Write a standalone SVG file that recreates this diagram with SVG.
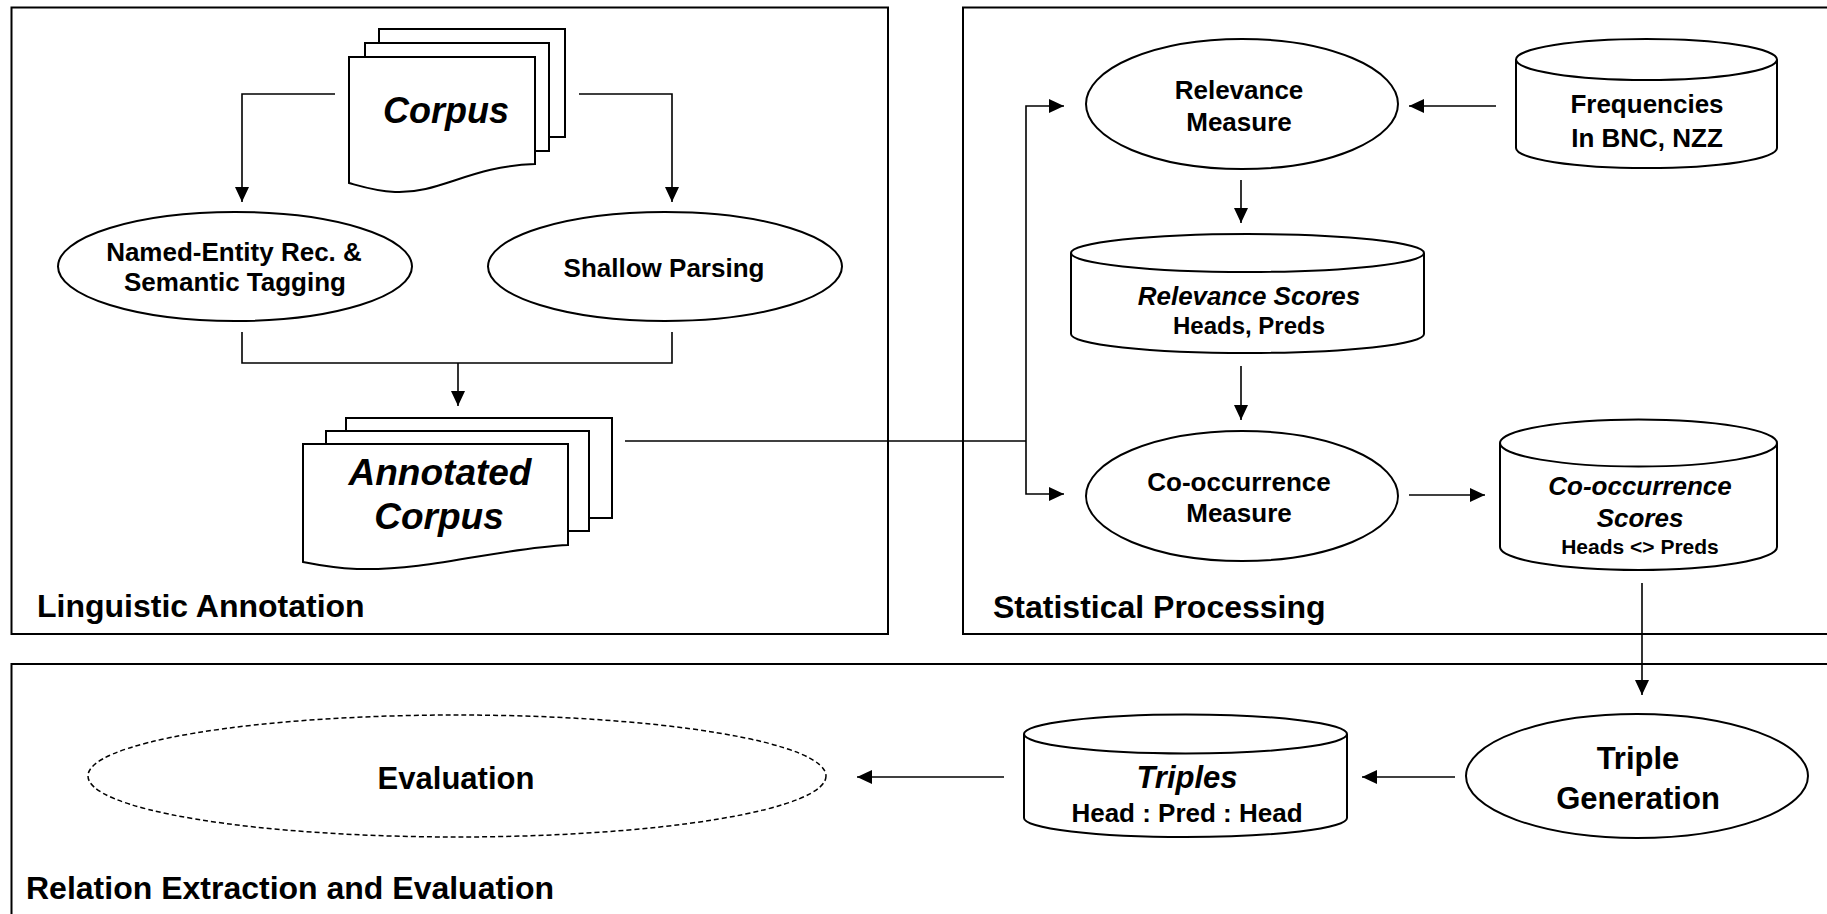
<svg xmlns="http://www.w3.org/2000/svg" width="1827" height="914" viewBox="0 0 1827 914">
<defs>
<style>
text{font-family:"Liberation Sans",Arial,sans-serif;font-weight:bold;fill:#000;text-anchor:middle}
.panel{fill:none;stroke:#000;stroke-width:2}
.plabel{font-size:32px;text-anchor:start}
.shape{fill:#fff;stroke:#000;stroke-width:2}
.n26{font-size:26px}
.it{font-style:italic}
.conn{fill:none;stroke:#000;stroke-width:1.6}
.arr{marker-end:url(#ah)}
</style>
<marker id="ah" markerUnits="userSpaceOnUse" markerWidth="16" markerHeight="14" refX="15" refY="7" orient="auto">
<path d="M0,0 L15,7 L0,14 Z" fill="#000"/>
</marker>
</defs>
<rect width="1827" height="914" fill="#fff"/>

<g id="panel-linguistic">
<rect class="panel" x="11.5" y="7.5" width="876.5" height="626.5"/>
<text class="plabel" x="37" y="617">Linguistic Annotation</text>
</g>
<g id="panel-statistical">
<rect class="panel" x="963" y="7.5" width="880" height="626.5"/>
<text class="plabel" x="993" y="618">Statistical Processing</text>
</g>
<g id="panel-relation">
<rect class="panel" x="11.5" y="664" width="1830" height="270"/>
<text class="plabel" x="26" y="899">Relation Extraction and Evaluation</text>
</g>

<g id="connectors">
<polyline class="conn arr" points="335,94 242,94 242,202"/>
<polyline class="conn arr" points="579,94 672,94 672,202"/>
<polyline class="conn" points="242,332 242,363 672,363 672,332"/>
<line class="conn arr" x1="458" y1="363" x2="458" y2="406"/>
<line class="conn" x1="625" y1="441" x2="1026" y2="441"/>
<polyline class="conn arr" points="1026,441 1026,106 1064,106"/>
<polyline class="conn arr" points="1026,441 1026,494 1064,494"/>
<line class="conn arr" x1="1496" y1="106" x2="1409" y2="106"/>
<line class="conn arr" x1="1241" y1="180" x2="1241" y2="223"/>
<line class="conn arr" x1="1241" y1="366" x2="1241" y2="420"/>
<line class="conn arr" x1="1409" y1="495" x2="1485" y2="495"/>
<line class="conn arr" x1="1642" y1="583" x2="1642" y2="695"/>
<line class="conn arr" x1="1455" y1="777" x2="1362" y2="777"/>
<line class="conn arr" x1="1004" y1="777" x2="857" y2="777"/>
</g>

<g id="corpus">
<rect class="shape" x="379" y="29" width="186" height="108"/>
<rect class="shape" x="365" y="43" width="184" height="108"/>
<path class="shape" d="M349,57 H535 V164 C470,166 440,194 395,192 C375,191 360,186 349,183 Z"/>
<text class="it" x="446" y="123" font-size="36">Corpus</text>
</g>

<g id="named-entity">
<ellipse class="shape" cx="235" cy="266.5" rx="177" ry="54.5"/>
<text class="n26" x="234" y="261">Named-Entity Rec. &amp;</text>
<text class="n26" x="235" y="291">Semantic Tagging</text>
</g>

<g id="shallow-parsing">
<ellipse class="shape" cx="665" cy="266.5" rx="177" ry="54.5"/>
<text class="n26" x="664" y="277">Shallow Parsing</text>
</g>

<g id="annotated-corpus">
<rect class="shape" x="346" y="418" width="266" height="100"/>
<rect class="shape" x="326" y="431" width="263" height="100"/>
<path class="shape" d="M303,444 H568 V545 C500,548 430,571 357,569 C335,568 318,565 303,562 Z"/>
<text class="it" x="440" y="485" font-size="37">Annotated</text>
<text class="it" x="439" y="529" font-size="37">Corpus</text>
</g>

<g id="relevance-measure">
<ellipse class="shape" cx="1242" cy="104" rx="156" ry="65"/>
<text class="n26" x="1239" y="99">Relevance</text>
<text class="n26" x="1239" y="131">Measure</text>
</g>

<g id="frequencies">
<path class="shape" d="M1516,59.5 V148 A130.5,20 0 0 0 1777,148 V59.5"/>
<ellipse class="shape" cx="1646.5" cy="59.5" rx="130.5" ry="20.5"/>
<text class="n26" x="1647" y="113">Frequencies</text>
<text class="n26" x="1647" y="147">In BNC, NZZ</text>
</g>

<g id="relevance-scores">
<path class="shape" d="M1071,253 V334 A176.5,19 0 0 0 1424,334 V253"/>
<ellipse class="shape" cx="1247.5" cy="253" rx="176.5" ry="19"/>
<text class="n26 it" x="1249" y="305">Relevance Scores</text>
<text x="1249" y="334" font-size="24">Heads, Preds</text>
</g>

<g id="cooccurrence-measure">
<ellipse class="shape" cx="1242" cy="496" rx="156" ry="65"/>
<text class="n26" x="1239" y="491">Co-occurrence</text>
<text class="n26" x="1239" y="522">Measure</text>
</g>

<g id="cooccurrence-scores">
<path class="shape" d="M1500,443 V547 A138.5,23 0 0 0 1777,547 V443"/>
<ellipse class="shape" cx="1638.5" cy="443" rx="138.5" ry="23.5"/>
<text class="n26 it" x="1640" y="495">Co-occurrence</text>
<text class="n26 it" x="1640" y="527">Scores</text>
<text x="1640" y="554" font-size="21">Heads &lt;&gt; Preds</text>
</g>

<g id="triple-generation">
<ellipse class="shape" cx="1637" cy="776" rx="171" ry="62"/>
<text x="1638" y="769" font-size="31">Triple</text>
<text x="1638" y="809" font-size="31">Generation</text>
</g>

<g id="triples">
<path class="shape" d="M1024,734 V818 A161.5,19 0 0 0 1347,818 V734"/>
<ellipse class="shape" cx="1185.5" cy="734" rx="161.5" ry="19.5"/>
<text class="it" x="1187" y="788" font-size="31">Triples</text>
<text class="n26" x="1187" y="822">Head : Pred : Head</text>
</g>

<g id="evaluation">
<ellipse cx="457" cy="776" rx="369" ry="61" fill="#fff" stroke="#000" stroke-width="1.5" stroke-dasharray="5 3"/>
<text x="456" y="789" font-size="31">Evaluation</text>
</g>
</svg>
